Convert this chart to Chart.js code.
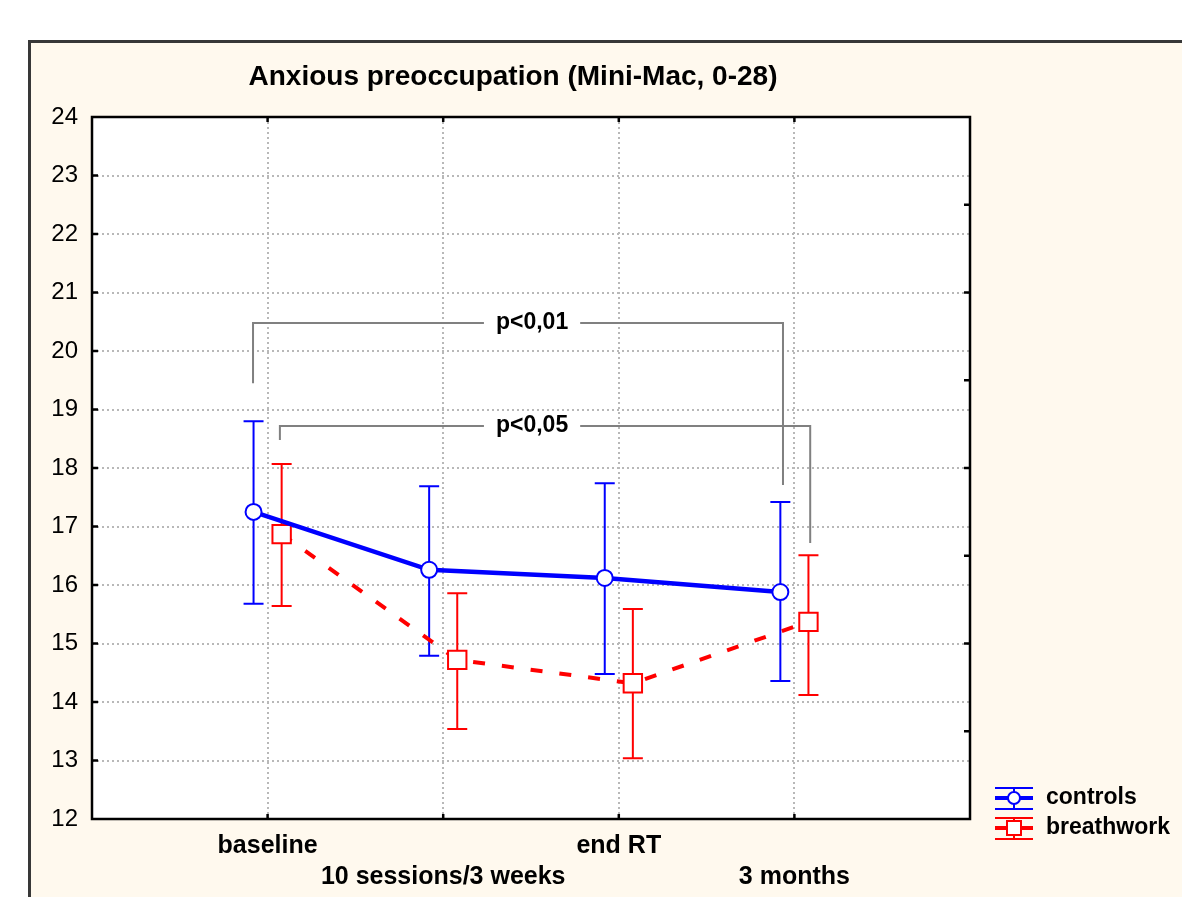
<!DOCTYPE html>
<html>
<head>
<meta charset="utf-8">
<title>Anxious preoccupation</title>
<script src="https://cdn.jsdelivr.net/npm/chart.js@4/dist/chart.umd.min.js"></script>
<style>
  html, body { margin: 0; padding: 0; background: #fff; }
  canvas { display: block; }
</style>
</head>
<body>
<canvas id="chart" width="1182" height="897"></canvas>
<script>
// time points along the x axis (drawn at 1..4)
const categories = ['baseline', '10 sessions/3 weeks', 'end RT', '3 months']

// controls: means and error bar ends
const controlsMean = [17.25, 16.26, 16.12, 15.88]
const controlsLow = [15.68, 14.79, 14.48, 14.36]
const controlsHigh = [18.80, 17.69, 17.74, 17.42]

// breathwork: means and error bar ends
const breathMean = [16.87, 14.72, 14.32, 15.37]
const breathLow = [15.64, 13.54, 13.04, 14.12]
const breathHigh = [18.07, 15.86, 15.59, 16.51]

const yTicks = [12, 13, 14, 15, 16, 17, 18, 19, 20, 21, 22, 23, 24]

// significance brackets, in axis units
const brackets = [
    {label: 'p<0,01', y: 20.48, x1: 0.917, x2: 3.935, end1: 19.45, end2: 17.71, mid: 2.506},
    {label: 'p<0,05', y: 18.72, x1: 1.07, x2: 4.09, end1: 18.48, end2: 16.72, mid: 2.506}
]

const FONT = "'Liberation Sans', Arial, sans-serif"
const SHIFT = 0.08

function points(means, shift) {
    return means.map((v, i) => ({x: i + 1 + shift, y: v}))
}

const chrome = {
    id: 'chrome',
    beforeDraw(chart) {
        const ctx = chart.ctx
        const a = chart.chartArea
        ctx.save()
        ctx.fillStyle = '#ffffff'
        ctx.fillRect(0, 0, chart.width, chart.height)
        ctx.fillStyle = '#fff9ee'
        ctx.fillRect(29, 41, chart.width - 29, chart.height - 41)
        ctx.strokeStyle = '#383838'
        ctx.lineWidth = 3
        ctx.beginPath()
        ctx.moveTo(29.5, chart.height)
        ctx.lineTo(29.5, 41.5)
        ctx.lineTo(chart.width, 41.5)
        ctx.stroke()
        ctx.fillStyle = '#ffffff'
        ctx.fillRect(a.left, a.top, a.right - a.left, a.bottom - a.top)
        ctx.restore()
    },
    beforeDatasetsDraw(chart) {
        const ctx = chart.ctx
        const a = chart.chartArea
        const xs = chart.scales.x
        const ys = chart.scales.y
        ctx.save()

        // plot frame and inner ticks
        ctx.strokeStyle = '#000'
        ctx.lineWidth = 2.5
        ctx.strokeRect(a.left, a.top, a.right - a.left, a.bottom - a.top)
        ctx.beginPath()
        yTicks.slice(1, -1).forEach(v => {
            const py = ys.getPixelForValue(v)
            ctx.moveTo(a.left, py)
            ctx.lineTo(a.left + 6, py)
        })
        for (let v = 13.5; v < 24; v += 1.5) {
            const py = ys.getPixelForValue(v)
            ctx.moveTo(a.right, py)
            ctx.lineTo(a.right - 6, py)
        }
        categories.forEach((c, i) => {
            const px = xs.getPixelForValue(i + 1)
            ctx.moveTo(px, a.top)
            ctx.lineTo(px, a.top + 5)
            ctx.moveTo(px, a.bottom)
            ctx.lineTo(px, a.bottom - 5)
        })
        ctx.stroke()

        // error bars
        chart.data.datasets.forEach(ds => {
            ctx.strokeStyle = ds.borderColor
            ctx.lineWidth = 2
            ctx.beginPath()
            ds.low.forEach((lo, i) => {
                const px = xs.getPixelForValue(ds.data[i].x)
                const p1 = ys.getPixelForValue(lo)
                const p2 = ys.getPixelForValue(ds.high[i])
                ctx.moveTo(px, p1)
                ctx.lineTo(px, p2)
                ctx.moveTo(px - 10, p1)
                ctx.lineTo(px + 10, p1)
                ctx.moveTo(px - 10, p2)
                ctx.lineTo(px + 10, p2)
            })
            ctx.stroke()
        })
        ctx.restore()
    },
    afterDraw(chart) {
        const ctx = chart.ctx
        const a = chart.chartArea
        const xs = chart.scales.x
        const ys = chart.scales.y
        ctx.save()

        // title
        ctx.fillStyle = '#000'
        ctx.font = 'bold 28px ' + FONT
        ctx.textAlign = 'center'
        ctx.textBaseline = 'middle'
        ctx.fillText('Anxious preoccupation (Mini-Mac, 0-28)', 513, 77)

        // brackets
        ctx.font = 'bold 23px ' + FONT
        brackets.forEach(b => {
            const py = ys.getPixelForValue(b.y)
            const pxm = xs.getPixelForValue(b.mid)
            const half = ctx.measureText(b.label).width / 2 + 12
            const px1 = xs.getPixelForValue(b.x1)
            const px2 = xs.getPixelForValue(b.x2)
            ctx.strokeStyle = '#808080'
            ctx.lineWidth = 2
            ctx.beginPath()
            ctx.moveTo(px1, ys.getPixelForValue(b.end1))
            ctx.lineTo(px1, py)
            ctx.lineTo(pxm - half, py)
            ctx.moveTo(pxm + half, py)
            ctx.lineTo(px2, py)
            ctx.lineTo(px2, ys.getPixelForValue(b.end2))
            ctx.stroke()
            ctx.fillStyle = '#000'
            ctx.fillText(b.label, pxm, py)
        })

        // legend
        const lx = a.right + 25
        chart.data.datasets.forEach((ds, i) => {
            const cy = a.bottom - 21 + i * 30
            const mid = lx + 19
            ctx.strokeStyle = ds.borderColor
            ctx.lineWidth = 2
            ctx.beginPath()
            ctx.moveTo(lx, cy - 10); ctx.lineTo(lx + 38, cy - 10)
            ctx.moveTo(lx, cy + 11); ctx.lineTo(lx + 38, cy + 11)
            ctx.moveTo(mid, cy - 10); ctx.lineTo(mid, cy + 11)
            ctx.stroke()
            ctx.lineWidth = 4
            ctx.beginPath()
            ctx.moveTo(lx, cy); ctx.lineTo(lx + 38, cy)
            ctx.stroke()
            ctx.fillStyle = '#fff'
            ctx.lineWidth = 2
            ctx.beginPath()
            if (ds.pointStyle === 'circle') {
                ctx.arc(mid, cy, 6, 0, Math.PI * 2)
            } else {
                ctx.rect(mid - 7, cy - 7, 14, 14)
            }
            ctx.fill()
            ctx.stroke()
            ctx.fillStyle = '#000'
            ctx.font = 'bold 23px ' + FONT
            ctx.textAlign = 'left'
            ctx.fillText(ds.label, lx + 51, cy)
        })
        ctx.restore()
    }
}

new Chart(document.getElementById('chart'), {
    type: 'scatter',
    data: {
        datasets: [
            {
                label: 'controls',
                data: points(controlsMean, -SHIFT),
                low: controlsLow,
                high: controlsHigh,
                showLine: true,
                borderColor: '#0000ff',
                borderWidth: 4.5,
                pointStyle: 'circle',
                pointRadius: 8,
                pointBorderWidth: 2,
                pointBackgroundColor: '#ffffff',
                pointBorderColor: '#0000ff'
            },
            {
                label: 'breathwork',
                data: points(breathMean, SHIFT),
                low: breathLow,
                high: breathHigh,
                showLine: true,
                borderColor: '#ff0000',
                borderWidth: 4,
                borderDash: [12, 17],
                pointStyle: 'rect',
                pointRadius: 13,
                pointBorderWidth: 2,
                pointBackgroundColor: '#ffffff',
                pointBorderColor: '#ff0000'
            }
        ]
    },
    options: {
        responsive: false,
        animation: false,
        layout: {padding: {left: 30, top: 117, right: 212, bottom: 0}},
        plugins: {legend: {display: false}, title: {display: false}, tooltip: {enabled: false}},
        scales: {
            x: {
                type: 'linear',
                min: 0,
                max: 5,
                afterFit: s => { s.height = 78 },
                afterBuildTicks: s => { s.ticks = [0, 1, 2, 3, 4, 5].map(v => ({value: v})) },
                border: {display: false, dash: [2, 3]},
                grid: {
                    drawTicks: false,
                    color: c => (c.tick && c.tick.value > 0 && c.tick.value < 5) ? '#b8b8b8' : 'rgba(0,0,0,0)',
                    lineWidth: 2
                },
                ticks: {
                    padding: 12,
                    maxRotation: 0,
                    autoSkip: false,
                    color: '#000',
                    font: {family: FONT, size: 25, weight: 'bold', lineHeight: 1.24},
                    callback: v => {
                        const name = categories[v - 1]
                        if (!name) return ''
                        return v % 2 === 1 ? name : ['', name]
                    }
                }
            },
            y: {
                min: 12,
                max: 24,
                afterFit: s => { s.width = 62 },
                afterBuildTicks: s => { s.ticks = yTicks.map(v => ({value: v})) },
                border: {display: false, dash: [2, 3]},
                grid: {
                    drawTicks: false,
                    color: c => (c.tick && c.tick.value > 12 && c.tick.value < 24) ? '#b8b8b8' : 'rgba(0,0,0,0)',
                    lineWidth: 2
                },
                ticks: {
                    padding: 14,
                    color: '#000',
                    font: {family: FONT, size: 24}
                }
            }
        }
    },
    plugins: [chrome]
})
</script>
</body>
</html>
